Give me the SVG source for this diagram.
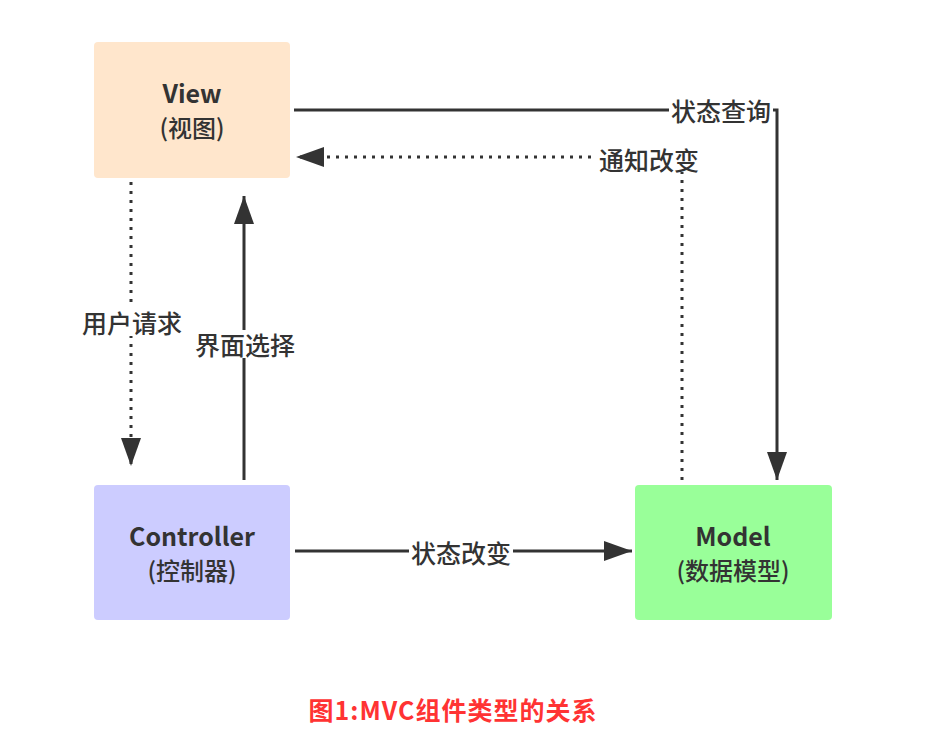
<svg xmlns="http://www.w3.org/2000/svg" width="931" height="729" viewBox="0 0 931 729">
<defs>
<style>
.node-t{font-family:"Noto Sans CJK SC","Noto Sans",sans-serif;font-size:24px;fill:#333;text-anchor:middle;font-weight:500;}
.b{font-weight:bold;font-size:25px;}
.lbl{font-family:"Noto Sans CJK SC","Noto Sans",sans-serif;font-size:25px;fill:#333;text-anchor:middle;dominant-baseline:central;font-weight:500;}
.ln{fill:none;stroke:#333;stroke-width:3;}
.dot{stroke-dasharray:3 6;}
.bg{fill:#fff;}
.cap{font-family:"Noto Sans CJK SC","Noto Sans",sans-serif;font-size:25px;font-weight:bold;fill:#ff3333;text-anchor:middle;letter-spacing:1px;}
</style>
<marker id="ah" viewBox="0 0 28 20" refX="28" refY="10" markerWidth="28" markerHeight="20" markerUnits="userSpaceOnUse" orient="auto">
<path d="M0,0 L28,10 L0,20 Z" fill="#333"/>
</marker>
</defs>
<rect width="931" height="729" fill="#fff"/>
<g id="connectors">
<path class="ln" d="M294,110 H777 V480" marker-end="url(#ah)"/>
<path class="ln dot" d="M682,480 V157 H296" marker-end="url(#ah)"/>
<path class="ln dot" d="M131,182 V466" marker-end="url(#ah)"/>
<path class="ln" d="M244,480 V196" marker-end="url(#ah)"/>
<path class="ln" d="M295,551 H632" marker-end="url(#ah)"/>
<rect class="bg" x="669" y="96" width="104" height="28"/>
<text class="lbl" x="721" y="110">状态查询</text>
<rect class="bg" x="597" y="144" width="104" height="28"/>
<text class="lbl" x="649" y="159">通知改变</text>
<rect class="bg" x="80" y="308" width="104" height="28"/>
<text class="lbl" x="132" y="322">用户请求</text>
<rect class="bg" x="193" y="330" width="104" height="28"/>
<text class="lbl" x="245" y="344">界面选择</text>
<rect class="bg" x="409" y="538" width="104" height="28"/>
<text class="lbl" x="461" y="552">状态改变</text>
</g>
<g id="view">
<rect x="94" y="42" width="196" height="136" rx="4" fill="#ffe6cc"/>
<text class="node-t b" x="192" y="103">View</text>
<text class="node-t" x="192" y="137">(视图)</text>
</g>
<g id="controller">
<rect x="94" y="485" width="196" height="135" rx="4" fill="#ccccff"/>
<text class="node-t b" x="192" y="546">Controller</text>
<text class="node-t" x="192" y="580">(控制器)</text>
</g>
<g id="model">
<rect x="635" y="485" width="197" height="135" rx="4" fill="#99ff99"/>
<text class="node-t b" x="733" y="546">Model</text>
<text class="node-t" x="733" y="580">(数据模型)</text>
</g>
<text class="cap" x="453" y="720">图1:MVC组件类型的关系</text>
</svg>
